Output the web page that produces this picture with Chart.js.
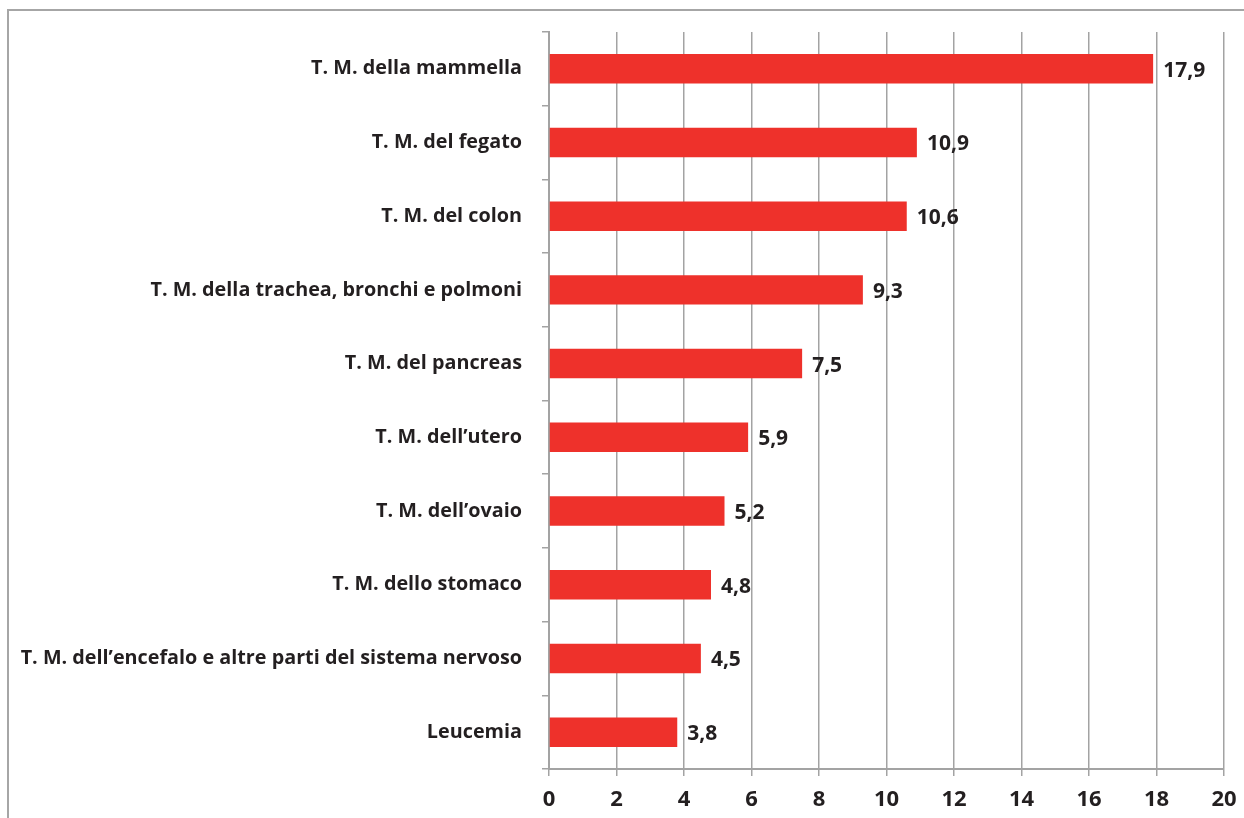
<!DOCTYPE html>
<html>
<head>
<meta charset="utf-8">
<script src="https://cdn.jsdelivr.net/npm/chart.js@4"></script>
<style>
  html, body { margin: 0; padding: 0; background: #fff; }
  #frame {
    position: absolute; left: 7px; top: 9px; width: 1237px; height: 809px;
    border-left: 2px solid #a6a6a6; border-top: 2px solid #a6a6a6;
  }
  #wrap { position: absolute; left: 0; top: 0; width: 1244px; height: 818px; }
</style>
</head>
<body>
<div id="frame"></div>
<div id="wrap"><canvas id="chart" width="1244" height="818"></canvas></div>
<script>
// categories and values
const categories = [
  'T. M. della mammella',
  'T. M. del fegato',
  'T. M. del colon',
  'T. M. della trachea, bronchi e polmoni',
  'T. M. del pancreas',
  'T. M. dell\u2019utero',
  'T. M. dell\u2019ovaio',
  'T. M. dello stomaco',
  'T. M. dell\u2019encefalo e altre parti del sistema nervoso',
  'Leucemia'
];
const values = [17.9, 10.9, 10.6, 9.3, 7.5, 5.9, 5.2, 4.8, 4.5, 3.8];
const xTicks = [0, 2, 4, 6, 8, 10, 12, 14, 16, 18, 20];

const textColor = '#231f20';
const gridColor = '#a3a3a3';
const fontFamily = '"Open Sans", "DejaVu Sans", sans-serif';

// value labels right of each bar
const valueLabels = {
  id: 'valueLabels',
  afterDatasetsDraw(chart) {
    const ctx = chart.ctx;
    const meta = chart.getDatasetMeta(0);
    ctx.save();
    ctx.font = 'bold 21px ' + fontFamily;
    ctx.fillStyle = textColor;
    ctx.textAlign = 'left';
    ctx.textBaseline = 'middle';
    meta.data.forEach((bar, i) => {
      const txt = values[i].toFixed(1).replace('.', ',');
      ctx.fillText(txt, bar.x + 10, bar.y + 2);
    });
    ctx.restore();
  }
};

new Chart(document.getElementById('chart'), {
  type: 'bar',
  data: {
    labels: categories,
    datasets: [{
      data: values,
      backgroundColor: '#ee312b',
      borderWidth: 0,
      barPercentage: 0.4,
      categoryPercentage: 1.0
    }]
  },
  options: {
    indexAxis: 'y',
    responsive: false,
    animation: false,
    layout: { padding: { top: 28, right: 20, left: 0, bottom: 0 } },
    plugins: {
      legend: { display: false },
      tooltip: { enabled: false }
    },
    scales: {
      x: {
        min: 0,
        max: 20,
        afterBuildTicks: scale => { scale.ticks = xTicks.map(v => ({ value: v })); },
        afterFit: scale => {
          scale.height = 49;
          scale.paddingRight = 0;
          scale.paddingLeft = 0;
        },
        grid: { color: gridColor, lineWidth: 1.5, tickLength: 7, drawTicks: true },
        border: { color: gridColor, width: 2 },
        ticks: {
          color: textColor,
          padding: 11,
          font: { family: fontFamily, size: 22, weight: 'bold' }
        }
      },
      y: {
        afterFit: scale => { scale.width = 549; },
        grid: { color: gridColor, lineWidth: 1.5, tickLength: 7, drawOnChartArea: false, offset: true },
        border: { color: gridColor, width: 2 },
        ticks: {
          color: textColor,
          padding: 20,
          font: { family: fontFamily, size: 19.8, weight: 'bold' }
        }
      }
    }
  },
  plugins: [valueLabels]
});
</script>
</body>
</html>
